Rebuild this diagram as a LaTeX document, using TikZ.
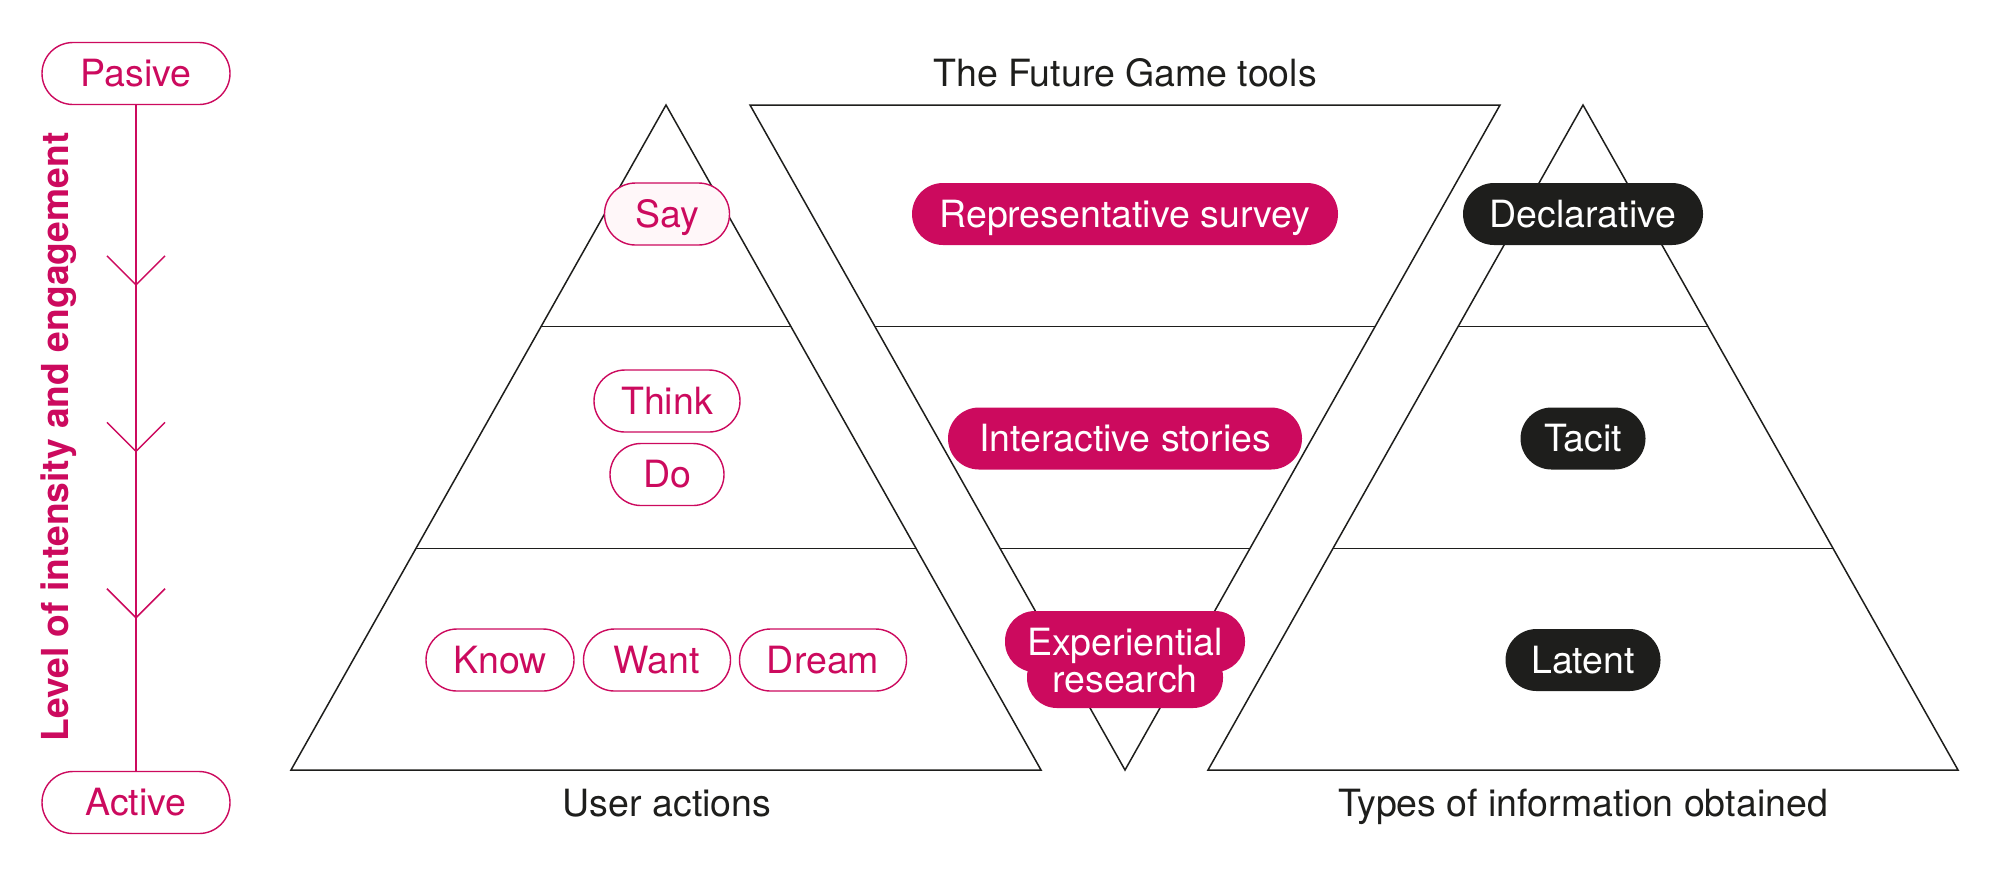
\documentclass[tikz,border=0pt]{standalone}
\usepackage{fontspec}
\setmainfont{TeX Gyre Heros}
\usetikzlibrary{calc}
\definecolor{mag}{HTML}{CC0A5E}
\definecolor{ink}{HTML}{1E1E1C}
\definecolor{blush}{HTML}{FFF7F9}
\begin{document}
\begin{tikzpicture}[x=0.5pt,y=-0.5pt,
  txt/.style={font=\fontsize{18.75}{22}\selectfont, text height=13.46pt, text depth=0pt, inner sep=0pt},
  pill/.style={txt, rounded corners=15.5pt, minimum height=31pt, line width=0.7pt},
  outpill/.style={pill, draw=mag, fill=white, text=mag},
  magpill/.style={pill, fill=mag, text=white},
  blkpill/.style={pill, fill=ink, text=white},
  label/.style={txt, text=ink},
  tri/.style={draw=ink, line width=0.75pt, line join=miter},
  axis/.style={draw=mag, line width=0.75pt}
]
\useasboundingbox (0,0) rectangle (2000,875);

% ---------- left axis ----------
\node[outpill, minimum width=94pt] (pasive) at (136,73.5) {Pasive};
\node[outpill, minimum width=94pt] (active) at (136,802.5) {Active};
\draw[axis] (pasive) -- (active)
  coordinate[pos=0.27] (v1) coordinate[pos=0.52] (v2) coordinate[pos=0.77] (v3);
\foreach \v in {v1,v2,v3}{
  \draw[axis] ([shift={(-29,-29)}]\v) -- (\v) -- ([shift={(29,-29)}]\v);
}
\node[font=\bfseries\fontsize{18.6}{22}\selectfont, text=mag, rotate=90,
      text height=13.4pt, text depth=0pt, inner sep=0pt] (level) at (55,437)
      {Level of intensity and engagement};

% ---------- left pyramid ----------
\coordinate (la) at (666,105);
\coordinate (lbl) at (291,770);
\coordinate (lbr) at (1041,770);
\draw[tri] (la) -- (lbl) -- (lbr) -- cycle;
\draw[tri] ($(la)!1/3!(lbl)$) -- ($(la)!1/3!(lbr)$);
\draw[tri] ($(la)!2/3!(lbl)$) -- ($(la)!2/3!(lbr)$);

% ---------- middle inverted pyramid ----------
\coordinate (mtl) at (750,105);
\coordinate (mtr) at (1500,105);
\coordinate (mt) at (1125,770);
\draw[tri] (mtl) -- (mtr) -- (mt) -- cycle;
\draw[tri] ($(mtl)!1/3!(mt)$) -- ($(mtr)!1/3!(mt)$);
\draw[tri] ($(mtl)!2/3!(mt)$) -- ($(mtr)!2/3!(mt)$);

% ---------- right pyramid ----------
\coordinate (ra) at (1583,105);
\coordinate (rbl) at (1208,770);
\coordinate (rbr) at (1958,770);
\draw[tri] (ra) -- (rbl) -- (rbr) -- cycle;
\draw[tri] ($(ra)!1/3!(rbl)$) -- ($(ra)!1/3!(rbr)$);
\draw[tri] ($(ra)!2/3!(rbl)$) -- ($(ra)!2/3!(rbr)$);

% ---------- titles ----------
\node[label] (title) at (1125,73.5) {The Future Game tools};
\node[label] (useract) at (667,803) {User actions};
\node[label] (types) at (1583,803) {Types of information obtained};

% ---------- user actions ----------
\node[outpill, fill=blush, minimum width=62.5pt] (say) at (667,214) {Say};
\node[outpill, minimum width=73pt] (think) at (667,401) {Think};
\node[outpill, minimum width=57pt] (do) at (667,474.5) {Do};
\node[outpill, minimum width=74pt] (know) at (500,660) {Know};
\node[outpill, minimum width=73.5pt] (want) at (657,660) {Want};
\node[outpill, minimum width=83.5pt] (dream) at (823,660) {Dream};

% ---------- tools ----------
\node[magpill, minimum width=213pt] (survey) at (1125,214) {Representative survey};
\node[magpill, minimum width=177pt] (stories) at (1125,438.5) {Interactive stories};
\fill[mag, rounded corners=15pt] (1005,611) rectangle (1245,672);
\fill[mag, rounded corners=15pt] (1027,647) rectangle (1223,708);
\node[txt, text=white, anchor=base] (exp1) at (1125,655) {Experiential};
\node[txt, text=white, anchor=base] (exp2) at (1125,692) {research};

% ---------- information types ----------
\node[blkpill, minimum width=120pt] (decl) at (1583,214) {Declarative};
\node[blkpill, minimum width=62.5pt] (tacit) at (1583,438.5) {Tacit};
\node[blkpill, minimum width=77.5pt] (latent) at (1583,660) {Latent};
\end{tikzpicture}
\end{document}
